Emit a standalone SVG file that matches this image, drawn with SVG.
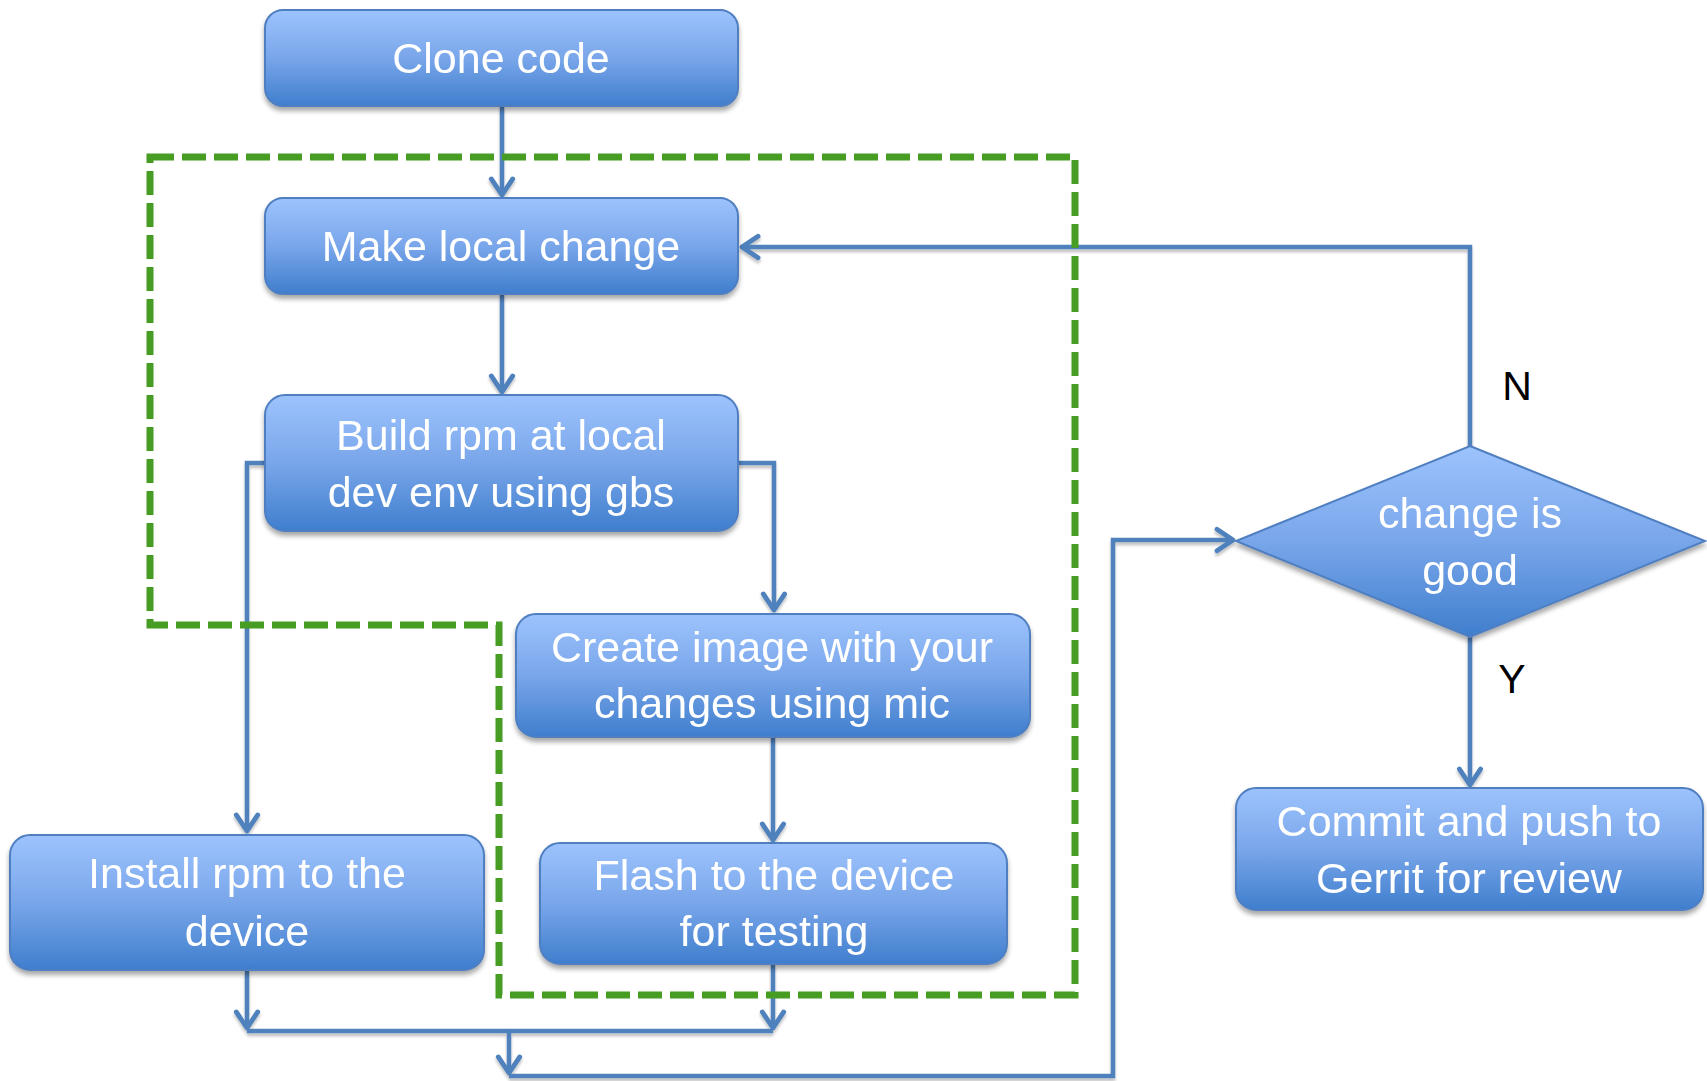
<svg xmlns="http://www.w3.org/2000/svg" width="1707" height="1081" viewBox="0 0 1707 1081">
  <defs>
    <linearGradient id="boxFill" x1="0" y1="0" x2="0" y2="1">
      <stop offset="0" stop-color="#9dc3fd"/>
      <stop offset="0.5" stop-color="#79a6ea"/>
      <stop offset="1" stop-color="#3f7ecd"/>
    </linearGradient>
    <filter id="shadow" x="-10%" y="-10%" width="120%" height="130%">
      <feGaussianBlur in="SourceAlpha" stdDeviation="2.5"/>
      <feOffset dx="0" dy="4" result="blur"/>
      <feComponentTransfer><feFuncA type="linear" slope="0.35"/></feComponentTransfer>
      <feMerge><feMergeNode/><feMergeNode in="SourceGraphic"/></feMerge>
    </filter>
    <filter id="lineShadow" x="-5%" y="-5%" width="110%" height="110%">
      <feGaussianBlur in="SourceAlpha" stdDeviation="1.5"/>
      <feOffset dx="0" dy="3"/>
      <feComponentTransfer><feFuncA type="linear" slope="0.25"/></feComponentTransfer>
      <feMerge><feMergeNode/><feMergeNode in="SourceGraphic"/></feMerge>
    </filter>
    <marker id="arrow" markerUnits="userSpaceOnUse" markerWidth="30" markerHeight="30" viewBox="-20 -14 24 28" refX="0" refY="0" orient="auto">
      <path d="M -15 -10 L 0 0 L -15 10" fill="none" stroke="#4f81bd" stroke-width="4.5" stroke-linecap="round" stroke-linejoin="round"/>
    </marker>
    <style>
      .box { fill: url(#boxFill); stroke: #4f7fc0; stroke-width: 2; }
      .lbl { font-family: "Liberation Sans", Arial, sans-serif; font-size: 43px; fill: #ffffff; text-anchor: middle; }
      .tag { font-family: "Liberation Sans", Arial, sans-serif; font-size: 41px; fill: #000000; text-anchor: middle; }
      .conn { fill: none; stroke: #4f81bd; stroke-width: 4.5; stroke-linejoin: miter; }
      .arr { marker-end: url(#arrow); }
      .zone { fill: none; stroke: #479c23; stroke-width: 7; stroke-dasharray: 24 8; }
    </style>
  </defs>

  <rect x="0" y="0" width="1707" height="1081" fill="#ffffff"/>

  <!-- connectors -->
  <g id="connectors" filter="url(#lineShadow)">
    <path class="conn arr" d="M 502 106 V 195"/>
    <path class="conn arr" d="M 502 294 V 392"/>
    <path class="conn arr" d="M 265 463 H 247 V 831"/>
    <path class="conn arr" d="M 738 463 H 774 V 610"/>
    <path class="conn arr" d="M 773 737 V 840"/>
    <path class="conn arr" d="M 247 971 V 1028"/>
    <path class="conn arr" d="M 773 964 V 1028"/>
    <path class="conn" d="M 247 1031 H 773"/>
    <path class="conn arr" d="M 509 1031 V 1073"/>
    <path class="conn arr" d="M 509 1076 H 1113 V 540 H 1233"/>
    <path class="conn arr" d="M 1470 446 V 247 H 742"/>
    <path class="conn arr" d="M 1470 637 V 785"/>
  </g>

  <!-- local development loop -->
  <path id="local-loop" class="zone" d="M 150 157 H 1075 V 995 H 499 V 625 H 150 Z"/>

  <!-- nodes -->
  <g id="clone" filter="url(#shadow)">
    <rect class="box" x="265" y="10" width="473" height="96" rx="18"/>
    <text class="lbl" x="501" y="73">Clone code</text>
  </g>
  <g id="make-change" filter="url(#shadow)">
    <rect class="box" x="265" y="198" width="473" height="96" rx="18"/>
    <text class="lbl" x="501" y="261">Make local change</text>
  </g>
  <g id="build-rpm" filter="url(#shadow)">
    <rect class="box" x="265" y="395" width="473" height="136" rx="20"/>
    <text class="lbl" x="501" y="450">Build rpm at local</text>
    <text class="lbl" x="501" y="507">dev env using gbs</text>
  </g>
  <g id="create-image" filter="url(#shadow)">
    <rect class="box" x="516" y="614" width="514" height="123" rx="20"/>
    <text class="lbl" x="772" y="662">Create image with your</text>
    <text class="lbl" x="772" y="718">changes using mic</text>
  </g>
  <g id="install-rpm" filter="url(#shadow)">
    <rect class="box" x="10" y="835" width="474" height="135" rx="20"/>
    <text class="lbl" x="247" y="888">Install rpm to the</text>
    <text class="lbl" x="247" y="946">device</text>
  </g>
  <g id="flash-device" filter="url(#shadow)">
    <rect class="box" x="540" y="843" width="467" height="121" rx="20"/>
    <text class="lbl" x="774" y="890">Flash to the device</text>
    <text class="lbl" x="774" y="946">for testing</text>
  </g>
  <g id="decision" filter="url(#shadow)">
    <polygon class="box" points="1470,446 1705,541 1470,637 1236,541"/>
    <text class="lbl" x="1470" y="528">change is</text>
    <text class="lbl" x="1470" y="585">good</text>
  </g>
  <g id="commit-push" filter="url(#shadow)">
    <rect class="box" x="1236" y="788" width="467" height="122" rx="20"/>
    <text class="lbl" x="1469" y="836">Commit and push to</text>
    <text class="lbl" x="1469" y="893">Gerrit for review</text>
  </g>

  <!-- branch labels -->
  <text class="tag" x="1517" y="400">N</text>
  <text class="tag" x="1512" y="693">Y</text>
</svg>
